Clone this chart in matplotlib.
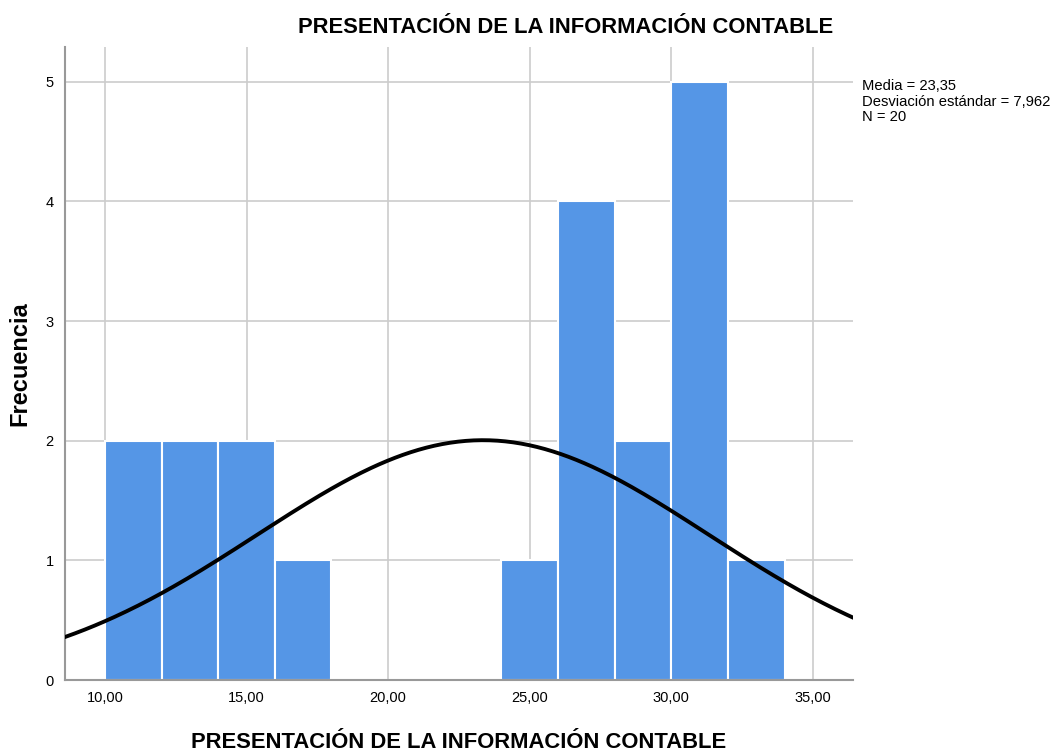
import numpy as np
import matplotlib.pyplot as plt

# histogram data
bin_edges = [10, 12, 14, 16, 18, 20, 22, 24, 26, 28, 30, 32, 34]
counts = [2, 2, 2, 1, 0, 0, 0, 1, 4, 2, 5, 1]
media = 23.35
desv = 7.962
n = 20
xticks = [10, 15, 20, 25, 30, 35]
xtick_labels = ["10,00", "15,00", "20,00", "25,00", "30,00", "35,00"]
yticks = [0, 1, 2, 3, 4, 5]

plt.rcParams['font.family'] = ['Liberation Sans', 'DejaVu Sans']

fig = plt.figure(figsize=(10.53, 7.52), dpi=100)
ax = fig.add_axes([0.0617, 0.0957, 0.7483, 0.8418])

widths = np.diff(bin_edges)
ax.bar(bin_edges[:-1], counts, width=widths, align="edge",
       color="#5596e6", edgecolor="white", linewidth=1.5, zorder=2)

# normal curve scaled to counts
bw = widths[0]
x = np.linspace(8.59, 36.41, 400)
y = n * bw / (desv * np.sqrt(2 * np.pi)) * np.exp(-0.5 * ((x - media) / desv) ** 2)
ax.plot(x, y, color="black", linewidth=2.8, zorder=3)

ax.set_xlim(8.59, 36.41)
ax.set_ylim(0, 5.29)
ax.set_xticks(xticks)
ax.set_xticklabels(xtick_labels)
ax.set_yticks(yticks)
ax.grid(True, color="#cccccc", linewidth=1.2, zorder=0)
ax.set_axisbelow(True)
ax.tick_params(length=0, labelsize=10.5, pad=8)
for s in ["top", "right"]:
    ax.spines[s].set_visible(False)
for s in ["left", "bottom"]:
    ax.spines[s].set_color("#999999")
    ax.spines[s].set_linewidth(1.5)

ax.set_xlabel("PRESENTACIÓN DE LA INFORMACIÓN CONTABLE", fontsize=15.8,
              fontweight="bold", va="center")
ax.xaxis.set_label_coords(0.5, -0.098)
ax.set_ylabel("Frecuencia", fontsize=17, fontweight="bold", va="center")
ax.yaxis.set_label_coords(-0.057, 0.5)

fig.text(0.537, 0.963, "PRESENTACIÓN DE LA INFORMACIÓN CONTABLE", fontsize=15.8,
         fontweight="bold", ha="center", va="center")

fig.text(0.819, 0.895, "Media = 23,35\nDesviación estándar = 7,962\nN = 20",
         fontsize=10.6, ha="left", va="top", linespacing=1.15)

fig.savefig("out.png", dpi=100)
